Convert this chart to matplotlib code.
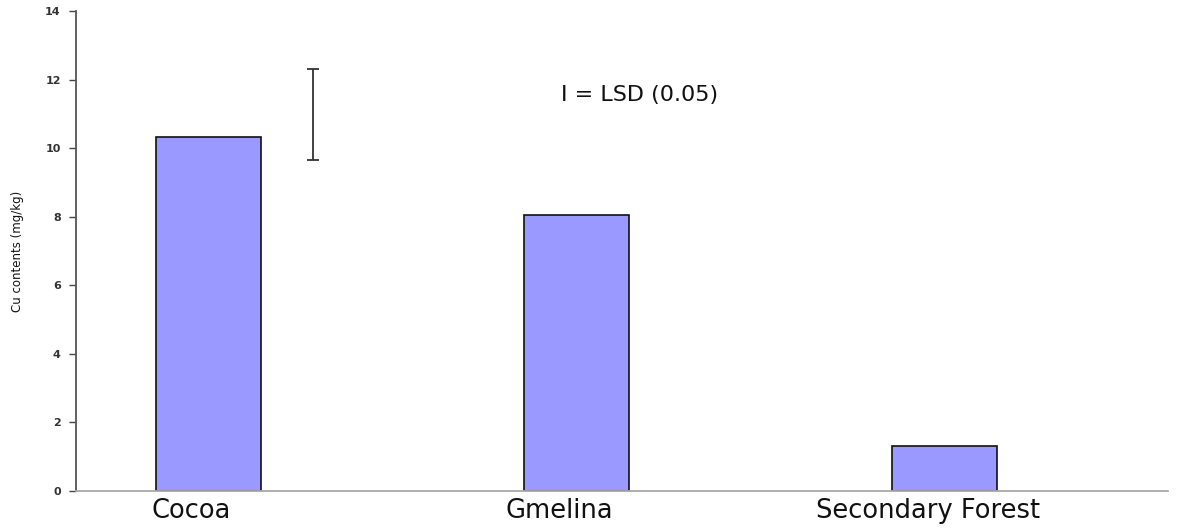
import numpy as np
import matplotlib.pyplot as plt
import matplotlib.transforms as mtransforms

# Data
categories = ['Cocoa', 'Gmelina', 'Secondary Forest']
cu_contents = [10.32, 8.05, 1.31]
lsd_value = 2.66
lsd_center = 10.98
y_ticks = [0, 2, 4, 6, 8, 10, 12, 14]

fig = plt.figure(figsize=(11.86, 5.31), dpi=100)
ax = fig.add_axes([0.0641, 0.0753, 0.9207, 0.904])

x = np.arange(len(categories))
ax.bar(x, cu_contents, width=0.285, color='#9999FF', edgecolor='#111111', linewidth=1.2, zorder=2)

# LSD bar
ax.errorbar([0.284], [lsd_center], yerr=[lsd_value / 2], fmt='none', ecolor='#333333',
            elinewidth=1.3, capsize=4, capthick=1.3)
ax.text(0.957, 11.55, 'I = LSD (0.05)', fontsize=16, color='#111111', va='center', ha='left')

ax.set_xlim(-0.36, 2.606)
ax.set_ylim(0, 14)
ax.set_xticks(x)
ax.set_xticklabels(categories, fontsize=18.5, color='#111111')
ax.set_yticks(y_ticks)
ax.set_yticklabels([str(t) for t in y_ticks], fontsize=8, fontweight='bold', color='#333333')
ax.tick_params(axis='x', length=0, pad=5)
ax.tick_params(axis='y', length=5, width=1, color='#444444', direction='out', pad=6)
ax.set_ylabel('Cu contents (mg/kg)', fontsize=8.5, color='#111111', labelpad=15)

# category labels sit a little left of the bar centres
shift = mtransforms.ScaledTranslation(-17 / 100, 0, fig.dpi_scale_trans)
for lbl in ax.get_xticklabels():
    lbl.set_transform(lbl.get_transform() + shift)

ax.spines['top'].set_visible(False)
ax.spines['right'].set_visible(False)
ax.spines['left'].set_color('#555555')
ax.spines['left'].set_linewidth(1.3)
ax.spines['bottom'].set_color('#a8a8a8')
ax.spines['bottom'].set_linewidth(1.3)

fig.savefig('out.png', dpi=100)
